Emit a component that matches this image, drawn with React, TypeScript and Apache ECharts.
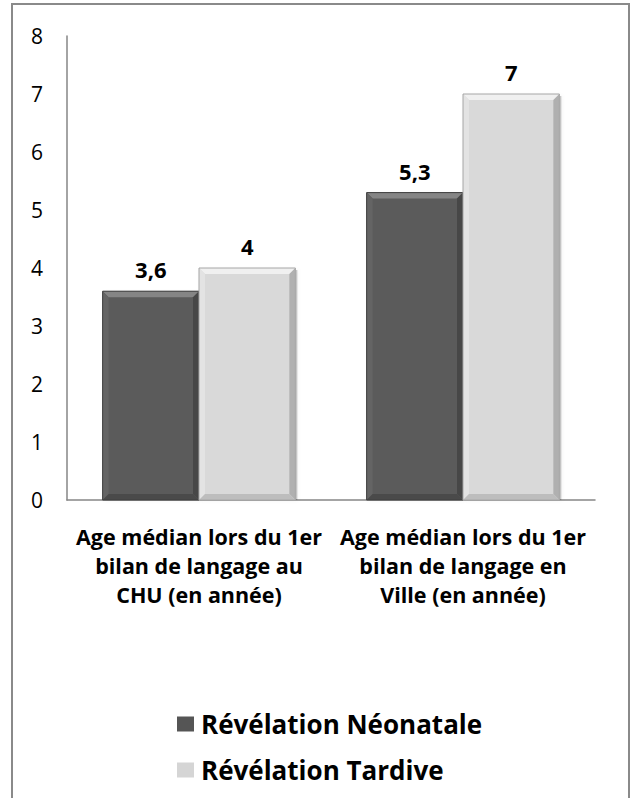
import React, { useEffect, useRef } from "react";
import * as echarts from "echarts";

const categories = [
  "Age médian lors du 1er\nbilan de langage au\nCHU (en année)",
  "Age médian lors du 1er\nbilan de langage en\nVille (en année)",
];
const seriesNames = ["Révélation Néonatale", "Révélation Tardive"];
const neonatale = [3.6, 5.3];
const tardive = [4, 7];
const labelsNeonatale = ["3,6", "5,3"];
const labelsTardive = ["4", "7"];

const FONT = "'Open Sans', 'Noto Sans', sans-serif";

const palettes = [
  { face: "#5b5b5b", top: "#858585", left: "#646464", right: "#474747", bottom: "#4a4a4a", border: "#3f3f3f" },
  { face: "#d9d9d9", top: "#f0f0f0", left: "#e3e3e3", right: "#b0b0b0", bottom: "#bdbdbd", border: "#a6a6a6" },
];

function makeRender(seriesIdx: number, labels: string[]) {
  return (params: any, api: any) => {
    const idx = api.value(0);
    const val = api.value(1);
    const p = api.coord([idx, val]);
    const base = api.coord([idx, 0]);
    const band = api.size([1, 0])[0];
    const w = band * 0.365;
    const x0 = seriesIdx === 0 ? p[0] - w : p[0];
    const x1 = x0 + w;
    const y0 = p[1];
    const y1 = base[1];
    const b = 6;
    const c = palettes[seriesIdx];
    return {
      type: "group",
      children: [
        {
          type: "rect",
          shape: { x: x0 + 2, y: y0 + 2, width: w, height: y1 - y0 - 2 },
          style: { fill: "rgba(0,0,0,0.2)", shadowBlur: 4, shadowColor: "rgba(0,0,0,0.3)" },
        },
        {
          type: "rect",
          shape: { x: x0, y: y0, width: w, height: y1 - y0 },
          style: { fill: c.face },
        },
        {
          type: "polygon",
          shape: { points: [[x0, y0], [x1, y0], [x1 - b, y0 + b], [x0 + b, y0 + b]] },
          style: { fill: c.top },
        },
        {
          type: "polygon",
          shape: { points: [[x0, y0], [x0 + b, y0 + b], [x0 + b, y1 - b], [x0, y1]] },
          style: { fill: c.left },
        },
        {
          type: "polygon",
          shape: { points: [[x1, y0], [x1, y1], [x1 - b, y1 - b], [x1 - b, y0 + b]] },
          style: { fill: c.right },
        },
        {
          type: "polygon",
          shape: { points: [[x0, y1], [x0 + b, y1 - b], [x1 - b, y1 - b], [x1, y1]] },
          style: { fill: c.bottom },
        },
        {
          type: "rect",
          shape: { x: x0, y: y0, width: w, height: y1 - y0 },
          style: { fill: "none", stroke: c.border, lineWidth: 1 },
        },
        {
          type: "text",
          style: {
            text: labels[params.dataIndex],
            x: (x0 + x1) / 2,
            y: y0 - 11,
            align: "center",
            verticalAlign: "bottom",
            font: `bold 22px ${FONT}`,
            fill: "#000",
          },
        },
      ],
    };
  };
}

export default function App() {
  const ref = useRef<HTMLDivElement>(null);
  useEffect(() => {
    if (!ref.current) return;
    const chart = echarts.init(ref.current, null, { renderer: "svg" });
    chart.setOption({
      animation: false,
      backgroundColor: "#fff",
      graphic: [
        {
          type: "rect",
          shape: { x: 12, y: 4, width: 617, height: 820 },
          style: { fill: "none", stroke: "#8a8a8a", lineWidth: 2 },
          silent: true,
        },
      ],
      grid: { left: 67, right: 36, top: 36, bottom: 298 },
      xAxis: {
        type: "category",
        data: categories,
        axisLine: { lineStyle: { color: "#868686", width: 1.5 } },
        axisTick: { show: false },
        axisLabel: {
          interval: 0,
          margin: 22,
          color: "#000",
          fontFamily: FONT,
          fontWeight: "bold",
          fontSize: 21.5,
          lineHeight: 29,
        },
      },
      yAxis: {
        type: "value",
        min: 0,
        max: 8,
        interval: 1,
        axisLine: { show: true, lineStyle: { color: "#868686", width: 1.5 } },
        axisTick: { show: false },
        splitLine: { show: false },
        axisLabel: { color: "#000", fontFamily: FONT, fontSize: 21, margin: 24 },
      },
      legend: {
        orient: "vertical",
        left: 172,
        top: 706,
        itemGap: 20,
        itemWidth: 17,
        itemHeight: 15,
        icon: "rect",
        textStyle: { color: "#000", fontFamily: FONT, fontWeight: "bold", fontSize: 26, padding: [0, 0, 0, 2] },
        data: seriesNames,
      },
      series: [
        {
          name: seriesNames[0],
          type: "custom",
          itemStyle: { color: "#555555" },
          renderItem: makeRender(0, labelsNeonatale),
          data: neonatale.map((v, i) => [i, v]),
          encode: { x: 0, y: 1 },
        },
        {
          name: seriesNames[1],
          type: "custom",
          itemStyle: { color: "#d5d5d5" },
          renderItem: makeRender(1, labelsTardive),
          data: tardive.map((v, i) => [i, v]),
          encode: { x: 0, y: 1 },
        },
      ],
    });
    return () => chart.dispose();
  }, []);
  return (
    <div
      ref={ref}
      style={{ position: "absolute", left: 0, top: 0, width: 631, height: 798 }}
    />
  );
}
